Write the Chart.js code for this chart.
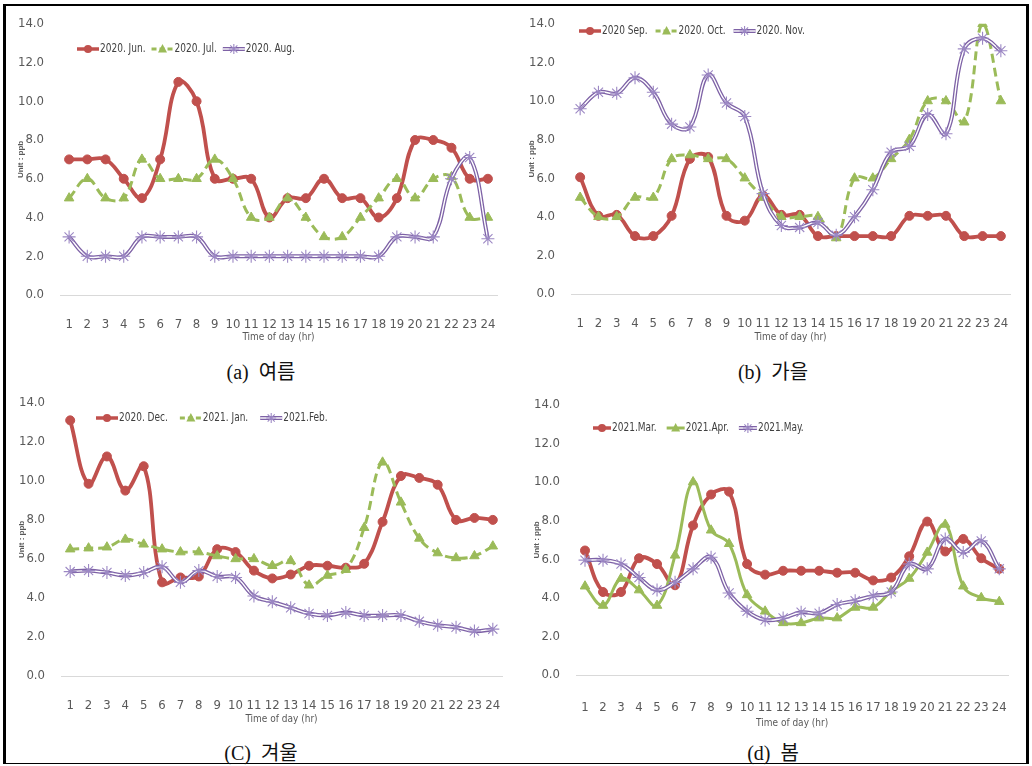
<!DOCTYPE html>
<html>
<head>
<meta charset="utf-8">
<script src="https://cdn.jsdelivr.net/npm/chart.js@4.4.0/dist/chart.umd.min.js"></script>
<style>
    body { margin: 0; background: #fff; width: 1032px; height: 766px; overflow: hidden; position: relative; }
    #marco { position: absolute; left: 3px; top: 4px; width: 1026px; height: 760px; box-sizing: border-box;
             border-top: 2px solid #000; border-left: 3px solid #000; border-right: 3px solid #000; border-bottom: 1px solid #000; }
    canvas { position: absolute; }
    .cap { position: absolute; font-family: 'Liberation Serif', 'Noto Sans CJK KR', serif; font-size: 20px; color: #111;
           transform: translate(-50%, -50%); white-space: nowrap; }
</style>
</head>
<body>
<div id="marco"></div>
<canvas id="verano"></canvas>
<canvas id="otono"></canvas>
<canvas id="invierno"></canvas>
<canvas id="primavera"></canvas>
<div class="cap" style="left:261px; top:370px">(a)&nbsp; 여름</div>
<div class="cap" style="left:773px; top:370px">(b)&nbsp; 가을</div>
<div class="cap" style="left:261px; top:751px">(C)&nbsp; 겨울</div>
<div class="cap" style="left:773px; top:751px">(d)&nbsp; 봄</div>

<script>
// Horas del día (eje X)
const horas = ['1', '2', '3', '4', '5', '6', '7', '8', '9', '10', '11', '12',
               '13', '14', '15', '16', '17', '18', '19', '20', '21', '22', '23', '24'];

// (a) verano
const jun = [7, 7, 7, 6, 5, 7, 11, 10, 6, 6, 6, 4, 5, 5, 6, 5, 5, 4, 5, 8, 8, 7.6, 6, 6];
const jul = [5, 6, 5, 5, 7, 6, 6, 6, 7, 6, 4, 4, 5, 4, 3, 3, 4, 5, 6, 5, 6, 6.1, 4, 4];
const aug = [3, 2, 2, 2, 3, 3, 3, 3, 2, 2, 2, 2, 2, 2, 2, 2, 2, 2, 3, 3, 3, 6, 7.1, 2.9];
const nombresVerano = ['2020. Jun.', '2020. Jul.', '2020. Aug.'];

// (b) otoño
const sep = [6.05, 4.05, 4.1, 3, 3, 4.05, 7, 7.1, 4.05, 3.8, 5.1, 4.1, 4.1, 3, 3, 3, 3, 3, 4.05, 4.05, 4.05, 3, 3, 3];
const oct = [5, 4, 4, 5, 5, 7, 7.2, 7, 7, 6, 5, 4, 4, 4, 2.9, 6, 6, 7, 8, 10, 10, 8.9, 14, 10];
const nov = [9.6, 10.45, 10.4, 11.2, 10.45, 8.8, 8.65, 11.35, 9.9, 9.2, 5.2, 3.55, 3.45, 3.7, 3.05, 4, 5.4, 7.35, 7.65, 9.3, 8.3, 12.7, 13.25, 12.6];
const nombresOtono = ['2020 Sep.', '2020. Oct.', '2020. Nov.'];

// (c) invierno
const dic = [13.1, 9.85, 11.25, 9.5, 10.75, 4.8, 5.05, 5.1, 6.5, 6.35, 5.4, 5.0, 5.2, 5.65, 5.65, 5.55, 5.75, 7.9, 10.25, 10.15, 9.8, 8.0, 8.1, 8.0];
const ene = [6.5, 6.55, 6.6, 7.0, 6.75, 6.5, 6.35, 6.35, 6.15, 6.0, 6.0, 5.65, 5.9, 4.65, 5.15, 5.45, 7.6, 10.95, 8.9, 7.05, 6.3, 6.05, 6.15, 6.65];
const feb = [5.35, 5.4, 5.3, 5.15, 5.3, 5.6, 4.8, 5.4, 5.1, 5.05, 4.1, 3.8, 3.5, 3.2, 3.1, 3.25, 3.1, 3.1, 3.1, 2.8, 2.6, 2.5, 2.3, 2.4];
const nombresInvierno = ['2020. Dec.', '2021. Jan.', '2021.Feb.'];

// (d) primavera
const mar = [6.45, 4.3, 4.3, 6.05, 5.75, 4.65, 7.75, 9.35, 9.5, 5.75, 5.2, 5.4, 5.4, 5.4, 5.3, 5.3, 4.9, 5.05, 6.15, 7.95, 6.4, 7.05, 6.05, 5.5];
const abr = [4.6, 3.6, 5.0, 4.4, 3.6, 6.2, 10.0, 7.5, 6.8, 4.15, 3.3, 2.7, 2.7, 2.95, 2.95, 3.5, 3.5, 4.35, 5.0, 6.35, 7.8, 4.6, 4.0, 3.8];
const may = [5.95, 5.95, 5.75, 5.05, 4.4, 4.8, 5.5, 6.1, 4.25, 3.3, 2.85, 2.95, 3.25, 3.2, 3.65, 3.85, 4.1, 4.3, 5.75, 5.5, 7.05, 6.35, 6.95, 5.5];
const nombresPrimavera = ['2021.Mar.', '2021.Apr.', '2021.May.'];

const ROJO = '#C0504D';
const VERDE = '#9BBB59';
const MORADO = '#7E62A6';
const ESTRELLA = '#9C88C4';
const FUENTE = "'Liberation Sans Narrow', 'DejaVu Sans Condensed', 'Arial Narrow', sans-serif";

// --- series ---
function serieRoja(label, data) {
    return { label, data, borderColor: ROJO, backgroundColor: ROJO, borderWidth: 3.8,
             pointStyle: 'circle', pointRadius: 4.5, pointBorderWidth: 1, tension: 0.4, order: 3 };
}
function serieVerde(label, data, discontinua) {
    return { label, data, borderColor: VERDE, backgroundColor: VERDE, borderWidth: 3,
             borderDash: discontinua ? [9, 5] : [], pointStyle: 'triangle', pointRadius: 5.5,
             pointBorderWidth: 1, tension: 0.4, order: 2 };
}
function serieMorada(label, data) {
    // línea doble: trazo morado ancho + trazo blanco fino encima, luego las estrellas
    return [
        { label, data, borderColor: MORADO, borderWidth: 4, pointRadius: 0, tension: 0.4, order: 1 },
        { label: label + ' ', data, borderColor: '#fff', borderWidth: 1.4, pointRadius: 0, tension: 0.4, order: 0.5 },
        { label: label + '  ', data, showLine: false, pointStyle: 'star', pointRadius: 6.5,
          pointBorderColor: ESTRELLA, pointBorderWidth: 1.1, order: 0 }
    ];
}

// --- leyenda dibujada a mano ---
function linea(ctx, x, y, w, color, grosor, dash) {
    ctx.save();
    ctx.strokeStyle = color; ctx.lineWidth = grosor; ctx.setLineDash(dash);
    ctx.beginPath(); ctx.moveTo(x, y); ctx.lineTo(x + w, y); ctx.stroke();
    ctx.restore();
}
function dibujarSimbolo(ctx, tipo, x, y, w) {
    const cx = x + w / 2;
    if (tipo === 'rojo') {
        linea(ctx, x, y, w, ROJO, 3.5, []);
        ctx.fillStyle = ROJO;
        ctx.beginPath(); ctx.arc(cx, y, 4, 0, Math.PI * 2); ctx.fill();
    } else if (tipo === 'verde' || tipo === 'verdeDash') {
        linea(ctx, x, y, w, VERDE, 3, tipo === 'verdeDash' ? [5, 3] : []);
        ctx.fillStyle = VERDE;
        ctx.beginPath(); ctx.moveTo(cx, y - 5); ctx.lineTo(cx + 4.5, y + 3.5); ctx.lineTo(cx - 4.5, y + 3.5);
        ctx.closePath(); ctx.fill();
    } else {
        linea(ctx, x, y, w, MORADO, 4, []);
        linea(ctx, x, y, w, '#fff', 1.4, []);
        ctx.save();
        ctx.strokeStyle = ESTRELLA; ctx.lineWidth = 1.1;
        ctx.beginPath();
        for (let k = 0; k < 4; k++) {
            const a = k * Math.PI / 4;
            ctx.moveTo(cx - 5 * Math.cos(a), y - 5 * Math.sin(a));
            ctx.lineTo(cx + 5 * Math.cos(a), y + 5 * Math.sin(a));
        }
        ctx.stroke();
        ctx.restore();
    }
}
const leyendaPlugin = {
    id: 'leyendaPropia',
    afterDraw(chart, args, opts) {
        const ctx = chart.ctx;
        const escala = 0.8; // texto estrecho como en el original
        ctx.save();
        ctx.font = '12.5px ' + FUENTE;
        ctx.textBaseline = 'middle';
        let x = opts.x;
        const y = opts.y;
        for (let i = 0; i < opts.textos.length; i++) {
            dibujarSimbolo(ctx, opts.tipos[i], x, y, opts.ancho);
            x += opts.ancho + 1;
            ctx.save();
            ctx.translate(x, y);
            ctx.scale(escala, 1);
            ctx.fillStyle = '#404040';
            ctx.fillText(opts.textos[i], 0, 0);
            ctx.restore();
            x += ctx.measureText(opts.textos[i]).width * escala + opts.sep;
        }
        ctx.restore();
    }
};

// caja = área de trazado en coordenadas de página
function crearPanel(id, caja, datasets, leyenda) {
    const YW = 56, PADT = 12, PADR = 14, PADB = 2;
    const canvas = document.getElementById(id);
    const izq = caja.L - YW, arriba = caja.T - PADT;
    const ancho = (caja.R - caja.L) + YW + PADR;
    const alto = (caja.B - caja.T) + PADT + caja.xh + PADB;
    canvas.width = ancho; canvas.height = alto;
    canvas.style.left = izq + 'px'; canvas.style.top = arriba + 'px';
    canvas.style.width = ancho + 'px'; canvas.style.height = alto + 'px';

    new Chart(canvas.getContext('2d'), {
        type: 'line',
        data: { labels: horas, datasets },
        options: {
            responsive: false,
            animation: false,
            devicePixelRatio: 1,
            layout: { padding: { left: 0, top: PADT, right: PADR, bottom: PADB } },
            plugins: {
                legend: { display: false },
                tooltip: { enabled: false },
                leyendaPropia: {
                    x: leyenda.x - izq, y: leyenda.y - arriba, ancho: leyenda.ancho, sep: leyenda.sep,
                    textos: leyenda.textos, tipos: leyenda.tipos
                }
            },
            scales: {
                x: {
                    offset: true,
                    grid: { display: false },
                    border: { display: true, color: '#D9D9D9', width: 1 },
                    ticks: { color: '#595959', font: { family: FUENTE, size: 13 }, padding: caja.tp,
                             autoSkip: false, maxRotation: 0 },
                    title: { display: true, text: 'Time of day (hr)', color: '#595959',
                             font: { family: FUENTE, size: 10 }, padding: { top: 0, bottom: 0 } },
                    afterFit: s => { s.height = caja.xh; }
                },
                y: {
                    min: 0, max: 14,
                    grid: { display: false },
                    border: { display: false },
                    ticks: { stepSize: 2, color: '#595959', font: { family: FUENTE, size: 13 }, padding: 8,
                             callback: v => Number(v).toFixed(1) },
                    title: { display: true, text: 'Unit : ppb', color: '#595959',
                             font: { family: "'Liberation Sans', Arial, sans-serif", size: 8, weight: 'bold' },
                             padding: { top: 12, bottom: 0 } },
                    afterFit: s => { s.width = YW; }
                }
            }
        },
        plugins: [leyendaPlugin]
    });
}

window.addEventListener('DOMContentLoaded', () => {
    crearPanel('verano', { L: 60, R: 497, T: 20, B: 295, xh: 48, tp: 14 },
        [serieRoja(nombresVerano[0], jun), serieVerde(nombresVerano[1], jul, true), ...serieMorada(nombresVerano[2], aug)],
        { x: 77, y: 49, ancho: 22, sep: 6, textos: nombresVerano, tipos: ['rojo', 'verdeDash', 'morado'] });

    crearPanel('otono', { L: 571, R: 1010, T: 20, B: 294, xh: 49, tp: 14 },
        [serieRoja(nombresOtono[0], sep), serieVerde(nombresOtono[1], oct, true), ...serieMorada(nombresOtono[2], nov)],
        { x: 579, y: 31, ancho: 22, sep: 8, textos: nombresOtono, tipos: ['rojo', 'verdeDash', 'morado'] });

    crearPanel('invierno', { L: 61, R: 502, T: 399, B: 676, xh: 49, tp: 14 },
        [serieRoja(nombresInvierno[0], dic), serieVerde(nombresInvierno[1], ene, true), ...serieMorada(nombresInvierno[2], feb)],
        { x: 96, y: 418, ancho: 22, sep: 12, textos: nombresInvierno, tipos: ['rojo', 'verdeDash', 'morado'] });

    crearPanel('primavera', { L: 576, R: 1010, T: 401, B: 675, xh: 54, tp: 17 },
        [serieRoja(nombresPrimavera[0], mar), serieVerde(nombresPrimavera[1], abr, false), ...serieMorada(nombresPrimavera[2], may)],
        { x: 593, y: 428, ancho: 18, sep: 10, textos: nombresPrimavera, tipos: ['rojo', 'verde', 'morado'] });
});
</script>
</body>
</html>
